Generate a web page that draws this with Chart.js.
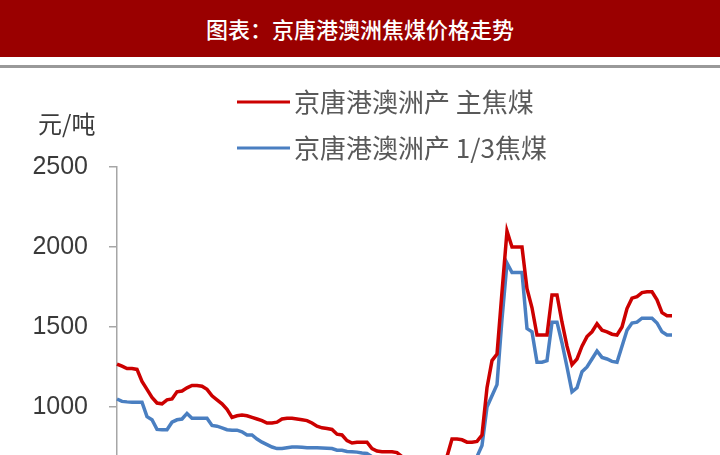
<!DOCTYPE html>
<html>
<head>
<meta charset="utf-8">
<script src="https://cdn.jsdelivr.net/npm/chart.js@4"></script>
<style>
    body { margin: 0; width: 720px; height: 455px; overflow: hidden; background: #fff; position: relative; }
    .title-bar { position: absolute; left: 0; top: 0; width: 720px; height: 57px; background: #9a0000;
        color: #fff; font: 500 22px "Noto Sans CJK SC"; text-align: center; line-height: 57px; z-index: 2; }
    .rule { position: absolute; left: 0; top: 65px; width: 720px; height: 3px; background: #999; z-index: 2; }
    .chart-box { position: absolute; left: 0; top: 0; width: 720px; height: 620px; }
</style>
</head>
<body>
<div class="title-bar">图表：京唐港澳洲焦煤价格走势</div>
<div class="rule"></div>
<div class="chart-box"><canvas id="coalChart" width="720" height="620"></canvas></div>
<script>
const seriesNames = ['京唐港澳洲产 主焦煤', '京唐港澳洲产 1/3焦煤'];
const seriesColors = ['#cc0000', '#4a7fc1'];
const unitLabel = '元/吨';
const yTicks = [0, 500, 1000, 1500, 2000, 2500];

// price, yuan per ton (roughly every 2-3 weeks)
const primeCoking = [
    1268, 1255, 1240, 1240, 1235, 1160, 1110, 1060, 1025, 1020,
    1045, 1050, 1095, 1100, 1120, 1135, 1135, 1130, 1110, 1070,
    1045, 1020, 985, 935, 945, 950, 945, 935, 925, 915,
    900, 900, 905, 925, 930, 930, 925, 920, 915, 900,
    880, 870, 865, 860, 830, 825, 790, 775, 780, 780,
    780, 740, 725, 720, 720, 720, 715, 690, 680, 670,
    665, 660, 660, 665, 670, 680, 690, 800, 800, 795,
    780, 780, 785, 825, 1120, 1290, 1330, 1720, 2100, 2000,
    2000, 2000, 1740, 1620, 1450, 1450, 1450, 1700, 1700, 1530,
    1380, 1265, 1300, 1380, 1440, 1470, 1520, 1480, 1470, 1455,
    1450, 1500, 1615, 1680, 1690, 1715, 1720, 1720, 1670, 1590,
    1570, 1570
];
const thirdCoking = [
    1050, 1035, 1032, 1030, 1030, 1030, 940, 920, 860, 858,
    858, 905, 920, 925, 960, 930, 930, 930, 930, 885,
    880, 870, 858, 855, 855, 845, 825, 825, 800, 780,
    765, 750, 740, 740, 745, 750, 750, 748, 745, 745,
    745, 744, 742, 740, 730, 730, 722, 720, 718, 712,
    710, 690, 675, 660, 650, 640, 635, 630, 625, 620,
    615, 610, 610, 612, 615, 620, 625, 630, 640, 650,
    660, 670, 690, 760, 1000, 1070, 1140, 1550, 1900, 1840,
    1840, 1840, 1490, 1470, 1280, 1280, 1290, 1530, 1530, 1400,
    1250, 1095, 1120, 1220, 1250, 1300, 1350, 1310, 1300, 1285,
    1280, 1380, 1480, 1525, 1530, 1555, 1555, 1555, 1525, 1470,
    1450, 1450
];

// x categories: sample dates, axis itself sits below the cropped view
const dates = [];
let d = new Date(2013, 2, 1);
for (let i = 0; i < primeCoking.length; i++) {
    dates.push(d.toISOString().slice(0, 10));
    d = new Date(d.getTime() + 17 * 86400000);
}

const legendAndUnit = {
    id: 'legendAndUnit',
    afterDraw(chart) {
        const ctx = chart.ctx;
        ctx.save();
        ctx.fillStyle = '#3a3a3a';
        ctx.font = '24px "Noto Sans CJK SC"';
        ctx.textBaseline = 'middle';
        ctx.textAlign = 'left';
        ctx.fillText(unitLabel, 38, 124);

        ctx.font = '26px "Noto Sans CJK SC"';
        ctx.fillStyle = '#595959';
        chart.data.datasets.forEach((ds, i) => {
            const y = 102 + i * 46;
            ctx.strokeStyle = ds.borderColor;
            ctx.lineWidth = 3;
            ctx.beginPath();
            ctx.moveTo(237, y);
            ctx.lineTo(290, y);
            ctx.stroke();
            ctx.fillText(ds.label, 294, y);
        });
        ctx.restore();
    }
};

new Chart(document.getElementById('coalChart'), {
    type: 'line',
    data: {
        labels: dates,
        datasets: [
            { label: seriesNames[0], data: primeCoking, borderColor: seriesColors[0], borderWidth: 3.5, pointRadius: 0, tension: 0 },
            { label: seriesNames[1], data: thirdCoking, borderColor: seriesColors[1], borderWidth: 3.5, pointRadius: 0, tension: 0 }
        ]
    },
    options: {
        responsive: false,
        animation: false,
        layout: { padding: { top: 167, bottom: 53, left: 0, right: 48 } },
        plugins: { legend: { display: false }, tooltip: { enabled: false } },
        scales: {
            x: {
                offset: false,
                ticks: { display: false },
                grid: { display: false, drawTicks: false },
                border: { color: '#a6a6a6', width: 1.5 }
            },
            y: {
                min: yTicks[0],
                max: yTicks[yTicks.length - 1],
                afterBuildTicks: s => { s.ticks = yTicks.map(v => ({ value: v })); },
                afterFit: s => { s.width = 117; },
                ticks: {
                    padding: 21,
                    color: '#3a3a3a',
                    font: { family: 'Liberation Sans', size: 25 },
                    callback: v => String(v)
                },
                grid: { drawOnChartArea: false, tickLength: 8, color: '#a6a6a6', lineWidth: 1.5 },
                border: { color: '#a6a6a6', width: 1.5 }
            }
        }
    },
    plugins: [legendAndUnit]
});
</script>
</body>
</html>
